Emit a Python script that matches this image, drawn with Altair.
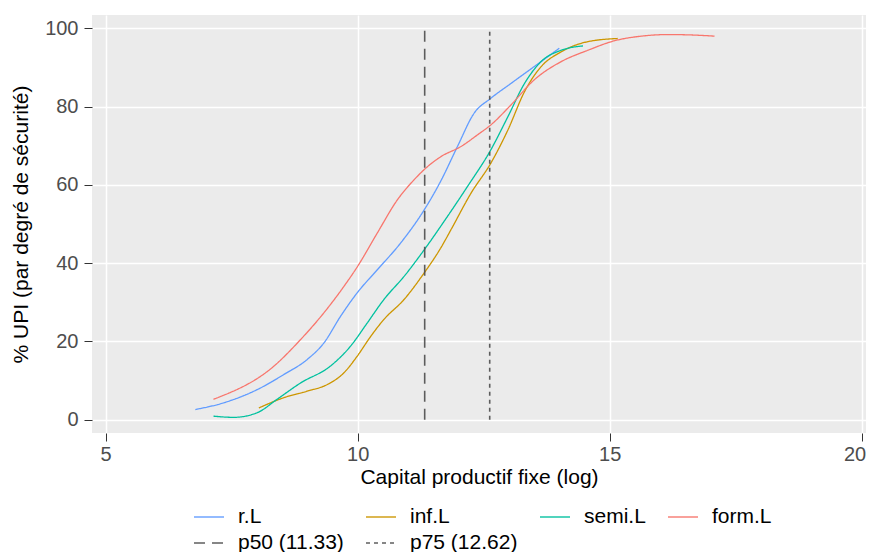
import altair as alt
import pandas as pd

# ---- data ----
SERIES = ["r.L", "inf.L", "semi.L", "form.L"]
RL_X = [6.78, 7.34, 8.01, 8.53, 9.0, 9.33, 9.66, 9.99, 10.39, 10.85, 11.32, 11.65, 11.98, 12.31, 12.64, 13.04, 13.5, 14.0]
RL_Y = [2.6, 4.3, 7.7, 11.5, 15.4, 19.6, 26.4, 32.4, 38.3, 45.1, 53.6, 61.0, 69.8, 78.3, 82.1, 85.9, 90.2, 94.9]
INF_X = [8.04, 8.53, 9.0, 9.4, 9.73, 9.99, 10.26, 10.52, 10.92, 11.32, 11.65, 11.85, 12.25, 12.64, 12.98, 13.31, 13.64, 14.04, 14.57, 15.16]
INF_Y = [3.0, 5.6, 7.3, 9.0, 12.0, 16.2, 21.3, 25.6, 30.7, 37.5, 43.9, 48.5, 57.9, 65.5, 74.0, 83.8, 90.2, 94.0, 96.6, 97.4]
SEMI_X = [7.14, 7.54, 8.01, 8.4, 8.87, 9.46, 9.86, 10.19, 10.52, 10.92, 11.32, 11.78, 12.18, 12.64, 12.98, 13.31, 13.64, 14.04, 14.47]
SEMI_Y = [0.9, 0.6, 1.8, 5.2, 9.4, 13.7, 18.8, 24.7, 30.7, 36.6, 43.4, 51.9, 59.6, 68.9, 77.4, 85.9, 91.5, 94.4, 95.5]
FORM_X = [7.14, 8.34, 8.87, 9.33, 9.73, 10.0, 10.39, 10.79, 11.12, 11.32, 11.65, 12.05, 12.38, 12.64, 13.04, 13.5, 14.04, 14.57, 15.09, 15.63, 16.16, 16.62, 17.08]
FORM_Y = [5.2, 13.7, 20.5, 27.3, 34.1, 39.2, 47.7, 56.2, 61.3, 63.9, 67.2, 69.8, 72.8, 75.3, 80.4, 86.8, 91.5, 94.4, 96.8, 98.0, 98.4, 98.3, 98.0]

VLINE_LABELS = ["p50 (11.33)", "p75 (12.62)"]
VLINE_X = [11.33, 12.62]
VLINE_Y0 = [0, 0]
VLINE_Y1 = [100, 100]

X_TICKS = [5, 10, 15, 20]
Y_TICKS = [0, 20, 40, 60, 80, 100]

COLORS = ["#619CFF", "#CD9600", "#00C19F", "#F8766D", "#4D4D4D", "#4D4D4D"]
DASHES = [[1, 0], [1, 0], [1, 0], [1, 0], [11, 7], [4, 4]]

# ---- build tables ----
rows = []
for name, xs, ys in zip(SERIES, [RL_X, INF_X, SEMI_X, FORM_X], [RL_Y, INF_Y, SEMI_Y, FORM_Y]):
    for x, y in zip(xs, ys):
        rows.append({"series": name, "x": x, "y": y})
curves = pd.DataFrame(rows)
vlines = pd.DataFrame({"series": VLINE_LABELS, "x": VLINE_X, "y": VLINE_Y0, "y2": VLINE_Y1})

domain_all = SERIES + VLINE_LABELS
color_scale = alt.Scale(domain=domain_all, range=COLORS)
dash_scale = alt.Scale(domain=domain_all, range=DASHES)

xscale = alt.Scale(domain=[4.73, 20.085], nice=False, zero=False)
yscale = alt.Scale(domain=[-3.4, 103.4], nice=False, zero=False)

xaxis = alt.Axis(values=X_TICKS, format="d", title="Capital productif fixe (log)",
                 labelFlush=6, labelFlushOffset=4)
yaxis = alt.Axis(values=Y_TICKS, format="d", title="% UPI (par degré de sécurité)")

lines = alt.Chart(curves).mark_line(interpolate="monotone", strokeWidth=1.3).encode(
    x=alt.X("x:Q", scale=xscale, axis=xaxis),
    y=alt.Y("y:Q", scale=yscale, axis=yaxis),
    color=alt.Color("series:N", scale=color_scale, title=None),
    strokeDash=alt.StrokeDash("series:N", scale=dash_scale, title=None),
    detail="series:N",
)

rules = alt.Chart(vlines).mark_rule(strokeWidth=1.6, opacity=0.9).encode(
    x=alt.X("x:Q", scale=xscale),
    y=alt.Y("y:Q", scale=yscale),
    y2="y2:Q",
    color=alt.Color("series:N", scale=color_scale, title=None),
    strokeDash=alt.StrokeDash("series:N", scale=dash_scale, title=None),
)

FONT = "Liberation Sans"

chart = alt.layer(lines, rules).properties(
    width=774,
    height=418,
    autosize=alt.AutoSizeParams(type="none"),
    padding={"left": 84, "top": 7, "right": 0, "bottom": 119},
).configure_view(
    fill="#EBEBEB", stroke=None
).configure_axis(
    domain=False,
    grid=True,
    gridColor="#FFFFFF",
    gridWidth=1.5,
    tickColor="#333333",
    tickSize=8,
    tickWidth=1,
    labelColor="#4D4D4D",
    labelFont=FONT,
    labelFontSize=20,
    titleFont=FONT,
    titleFontSize=21,
    titleFontWeight="normal",
    titleColor="#000000",
).configure_axisX(
    labelPadding=3,
    titlePadding=2,
).configure_axisY(
    labelPadding=6,
    titlePadding=13,
).configure_legend(
    orient="none",
    legendX=101,
    legendY=486,
    direction="horizontal",
    columns=4,
    symbolType="stroke",
    symbolSize=900,
    symbolStrokeWidth=1.4,
    labelFont=FONT,
    labelFontSize=21,
    labelColor="#000000",
    labelOffset=13,
    columnPadding=19,
    rowPadding=-8,
    padding=0,
    labelLimit=300,
)

chart.save("out.html", embed_options={"renderer": "svg", "actions": False})
